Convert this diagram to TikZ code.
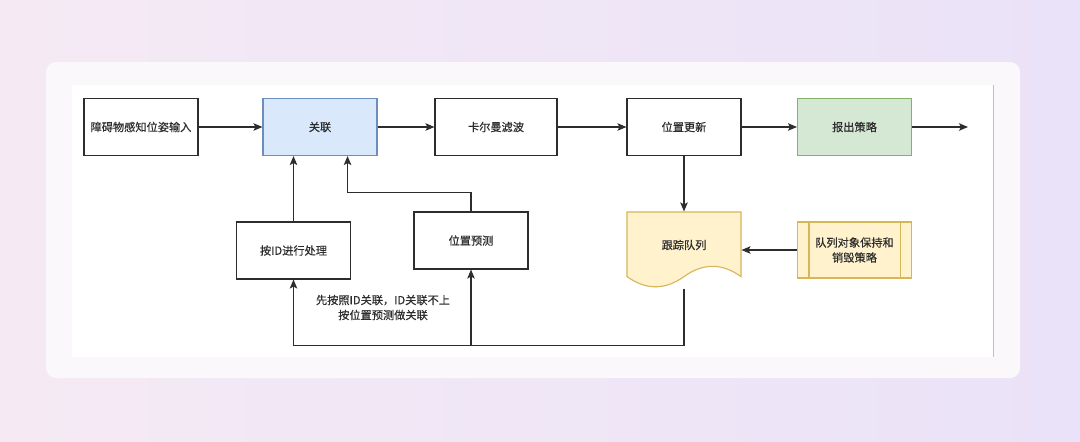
\documentclass[tikz,border=0pt]{standalone}
\usepackage{fontspec}
\setmainfont{Noto Sans CJK SC}[FakeBold=0.4]
\usepackage{xcolor}
\usepackage{tikz}
\usetikzlibrary{positioning}
\usetikzlibrary{arrows.meta}

\definecolor{bgleft}{RGB}{245,234,244}
\definecolor{bgright}{RGB}{234,226,248}
\definecolor{cardc}{RGB}{251,248,251}
\definecolor{linec}{RGB}{45,45,45}
\definecolor{bluef}{RGB}{218,232,252}
\definecolor{blued}{RGB}{108,142,191}
\definecolor{greenf}{RGB}{213,232,212}
\definecolor{greend}{RGB}{130,179,102}
\definecolor{yellowf}{RGB}{255,242,204}
\definecolor{yellowd}{RGB}{214,182,86}

\tikzset{
  box/.style={draw=linec, fill=white, line width=1.1pt, minimum width=114pt,
    minimum height=57pt, inner sep=2pt, align=center, text=linec,
    font=\fontsize{11.2}{15}\selectfont},
  bluebox/.style={box, draw=blued, fill=bluef},
  greenbox/.style={box, draw=greend, fill=greenf},
  yellowbox/.style={box, draw=yellowd, fill=yellowf},
}

\begin{document}
\begin{tikzpicture}[x=1pt,y=-1pt,->,>={Stealth[length=9pt,width=7.5pt,inset=2pt]},line width=1.1pt,draw=linec]
\useasboundingbox (0,0) rectangle (1080,442);
\shade[left color=bgleft,right color=bgright,draw=none] (0,0) rectangle (1080,442);
\fill[cardc,rounded corners=10pt] (46,62) rectangle (1020,378);
\fill[white] (72,85) rectangle (993,357);
\draw[-,black!25,line width=0.8pt] (993,85) -- (993,357);

% top row
\node[box] (A) at (141,127) {障碍物感知位姿输入};
\node[bluebox] (B) [right of=A, node distance=179pt] {关联};
\node[box, minimum width=122pt] (C) [right of=B, node distance=176pt] {卡尔曼滤波};
\node[box] (D) [right of=C, node distance=188pt] {位置更新};
\node[greenbox] (E) [right of=D, node distance=170.5pt] {报出策略};
\coordinate (out) at (968,127);

% document shape behind the queue node
\filldraw[-,draw=yellowd,fill=yellowf,line width=1.1pt] (627,212) -- (741,212) -- (741,276.6)
  .. controls (722,262.9) and (703,262.9) .. (684,276.6)
  .. controls (665,290.2) and (646,290.2) .. (627,276.6) -- cycle;

% bottom row
\node[box] (F) at (293.5,250.5) {按ID进行处理};
\node[box] (G) at (471,240.5) {位置预测};
\node[box, draw=none, fill=none, minimum height=76pt] (H) at (684,250) {\raisebox{11pt}{跟踪队列}};
\node[yellowbox, minimum height=56pt] (I) at (854.5,250) {队列对象保持和\\销毁策略};
\draw[-,yellowd] ([xshift=12pt]I.north west) -- ([xshift=12pt]I.south west);
\draw[-,yellowd] ([xshift=-12pt]I.north east) -- ([xshift=-12pt]I.south east);

\draw (A) -- (B);
\draw (B) -- (C);
\draw (C) -- (D);
\draw (D) -- (E);
\draw (E) -- (out);
\draw (D) -- (H);
\draw (I) -- (H);
\draw (F.north) -- (F.north |- B.south);
\draw (G.north) -- ++(0,-19) -| ([xshift=-30pt]B.south east);
\draw (H.south) -- ++(0,57) coordinate (hb) -| (F.south);
\draw (G.south |- hb) -- (G.south);

\node[align=center, text=linec, font=\fontsize{11.2}{15}\selectfont] (note) at (383,307.5)
  {先按照ID关联，ID关联不上\\按位置预测做关联};
\end{tikzpicture}
\end{document}
